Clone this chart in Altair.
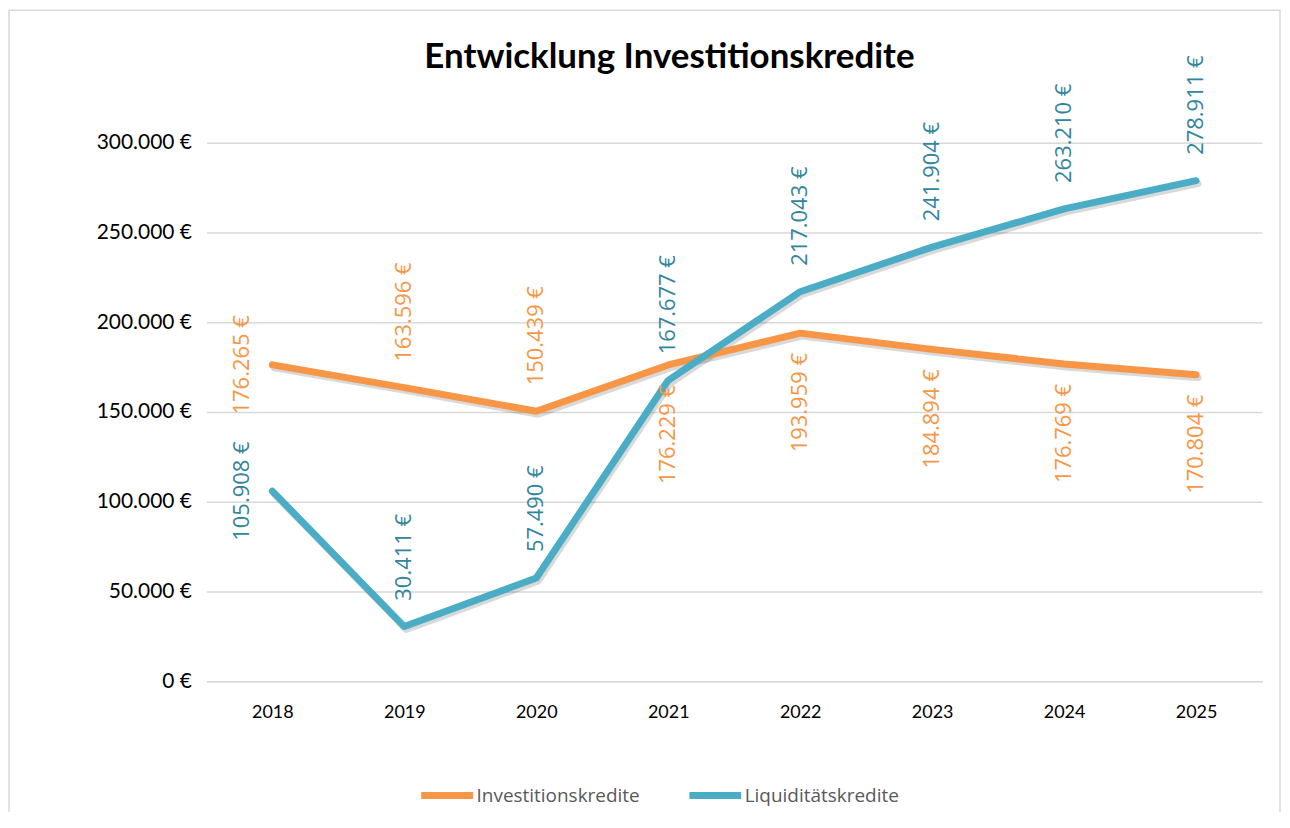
import altair as alt
import pandas as pd

years = ["2018", "2019", "2020", "2021", "2022", "2023", "2024", "2025"]
investitions = [176265, 163596, 150439, 176229, 193959, 184894, 176769, 170804]
liquiditaet = [105908, 30411, 57490, 167677, 217043, 241904, 263210, 278911]
inv_pos = ["left", "above", "above", "below", "below", "below", "below", "below"]
liq_pos = ["left", "above", "above", "above", "above", "above", "above", "above"]
series_names = ["Investitionskredite", "Liquiditätskredite"]
y_ticks = [0, 50000, 100000, 150000, 200000, 250000, 300000]


def de_fmt(v):
    return f"{v:,}".replace(",", ".") + " €"


rows = []
for name, vals, poss in [(series_names[0], investitions, inv_pos),
                         (series_names[1], liquiditaet, liq_pos)]:
    for y, v, p in zip(years, vals, poss):
        rows.append({"year": y, "series": name, "value": v, "label": de_fmt(v), "pos": p})
df = pd.DataFrame(rows)

line_colors = ["#F79646", "#4BACC6"]
label_colors = ["#F79646", "#31859C"]

base = alt.Chart(df).encode(
    x=alt.X("year:N", sort=years, title=None,
            scale=alt.Scale(type="point", padding=0.5),
            axis=alt.Axis(labelAngle=0, labelFontSize=18, labelColor="#000000",
                          labelFont="Lato", labelPadding=22, ticks=False,
                          domainColor="#D9D9D9", domainWidth=1.5, grid=False)),
    y=alt.Y("value:Q", title=None,
            scale=alt.Scale(domain=[0, 300000], nice=False, zero=True),
            axis=alt.Axis(values=y_ticks, labelFontSize=21, labelColor="#000000",
                          labelFont="Lato", labelPadding=15, ticks=False, domain=False,
                          gridColor="#D9D9D9", gridWidth=1.5,
                          labelExpr="replace(format(datum.value, ',.0f'), ',', '.') + ' €'")),
)

shadow = base.mark_line(strokeWidth=7, strokeCap="round", strokeJoin="round",
                        stroke="#000000", strokeOpacity=0.15).encode(
    detail="series:N", xOffset=alt.value(2), yOffset=alt.value(3)
)

lines = base.mark_line(strokeWidth=7, strokeCap="round", strokeJoin="round").encode(
    stroke=alt.Stroke("series:N", sort=series_names,
                      scale=alt.Scale(domain=series_names, range=line_colors),
                      legend=alt.Legend(title=None, orient="none", direction="horizontal",
                                        legendX=212, legendY=625,
                                        symbolType="stroke", symbolStrokeWidth=7,
                                        symbolSize=2700, labelFontSize=19,
                                        labelFont="Open Sans", labelColor="#595959",
                                        labelLimit=400,
                                        labelOffset=0, columnPadding=35))
)

fill_enc = alt.Fill("series:N", scale=alt.Scale(domain=series_names, range=label_colors),
                    legend=None)

txt_common = dict(angle=270, fontSize=22, font="Open Sans")

above = base.transform_filter(alt.datum.pos == "above").mark_text(
    align="left", baseline="middle", dx=26, **txt_common
).encode(text="label:N", fill=fill_enc)

below = base.transform_filter(alt.datum.pos == "below").mark_text(
    align="right", baseline="middle", dx=-20, **txt_common
).encode(text="label:N", fill=fill_enc)

left = base.transform_filter(alt.datum.pos == "left").mark_text(
    align="center", baseline="middle", dy=-30, **txt_common
).encode(text="label:N", fill=fill_enc)

frame = alt.Chart(pd.DataFrame({"a": [0]})).mark_rect(
    fill="#ffffff", fillOpacity=0, stroke="#D9D9D9", strokeWidth=1.5
).encode(x=alt.value(-198), x2=alt.value(1077), y=alt.value(-133), y2=alt.value(700))

chart = alt.layer(frame, shadow, lines, above, below, left).properties(
    width=1059, height=540,
    padding={"left": 199, "top": 134, "right": 20, "bottom": 130},
    autosize=alt.AutoSizeParams(type="none"),
    title=alt.TitleParams("Entwicklung Investitionskredite", font="Lato", fontSize=35,
                          fontWeight="bold", color="#000000", anchor="middle",
                          dx=-65, offset=0, dy=66),
).configure_view(stroke=None)

chart.save("out.html", embed_options={"renderer": "svg", "actions": False})
